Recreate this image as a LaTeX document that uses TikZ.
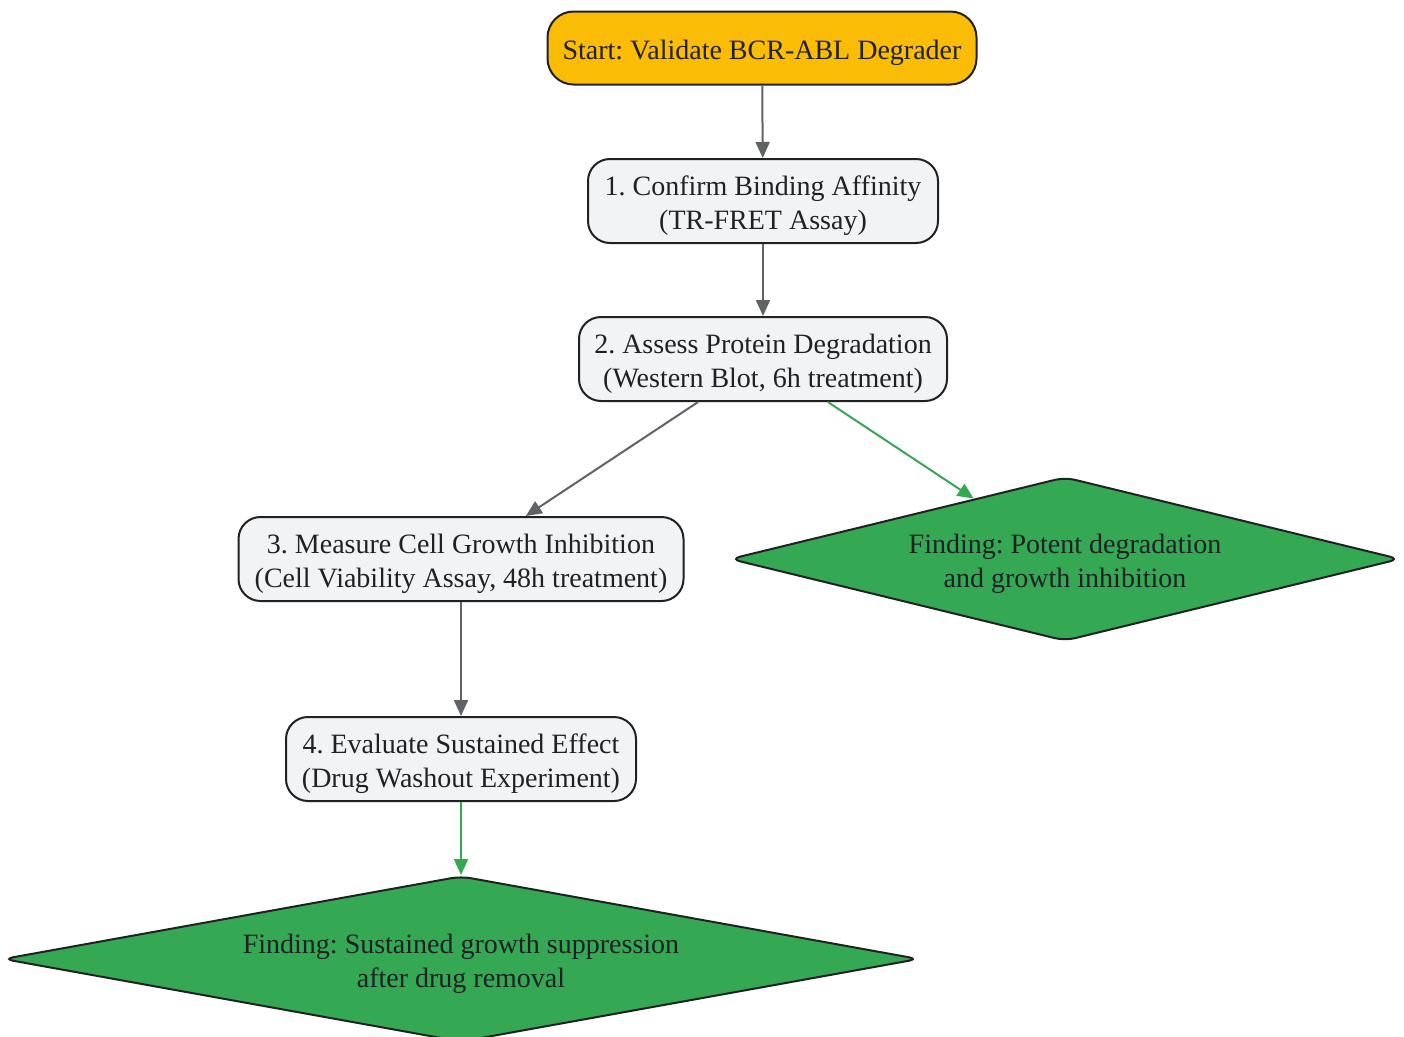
\documentclass[tikz,border=0pt]{standalone}
\usepackage{fontspec}
\setmainfont{Liberation Serif}
\frenchspacing
\usetikzlibrary{arrows.meta,shapes.geometric}
\definecolor{txt}{HTML}{202124}
\definecolor{edgegray}{HTML}{5F6368}
\definecolor{startfill}{HTML}{FBBC05}
\definecolor{stepfill}{HTML}{F1F3F4}
\definecolor{findfill}{HTML}{34A853}
\tikzset{
  base/.style={draw=txt, line width=2pt, text=txt, align=center, inner sep=0pt,
    font=\fontsize{28}{34}\selectfont\frenchspacing},
  oneline/.style={execute at begin node={\rule{0pt}{28.5pt}}},
  twoline/.style={execute at begin node={\rule{0pt}{62.5pt}}},
  startbox/.style={base, oneline, fill=startfill, rounded corners=26pt},
  stepbox/.style={base, twoline, fill=stepfill, rounded corners=22pt, minimum height=84pt},
  findbox/.style={base, twoline, fill=findfill, shape=diamond, rounded corners=10pt},
  conn/.style={line width=2pt, draw=edgegray, -{Triangle[length=16pt,width=14pt]}},
  goodconn/.style={line width=2pt, draw=findfill, -{Triangle[length=16pt,width=14pt]}},
}
\begin{document}
\begin{tikzpicture}[x=1pt,y=-1pt]
\useasboundingbox (0,0) rectangle (1404,1036);
\node[startbox, minimum width=429pt, minimum height=73pt] (s) at (762,48) {Start: Validate BCR-ABL Degrader};
\node[stepbox, minimum width=350pt] (n1) at (763,201) {1. Confirm Binding Affinity\\(TR-FRET Assay)};
\node[stepbox, minimum width=368pt] (n2) at (763,359) {2. Assess Protein Degradation\\(Western Blot, 6h treatment)};
\node[stepbox, minimum width=445pt] (n3) at (461,559) {3. Measure Cell Growth Inhibition\\(Cell Viability Assay, 48h treatment)};
\node[stepbox, minimum width=350pt] (n4) at (461,759) {4. Evaluate Sustained Effect\\(Drug Washout Experiment)};
\node[findbox, aspect=4, minimum width=670pt, minimum height=164pt] (d1) at (1065,559) {Finding: Potent degradation\\and growth inhibition};
\node[findbox, aspect=5.5, minimum width=916pt, minimum height=166pt] (d2) at (461,959) {Finding: Sustained growth suppression\\after drug removal};
\draw[conn] (s) -- (n1);
\draw[conn] (n1) -- (n2);
\draw[conn] (n2) -- (n3);
\draw[goodconn] (n2) -- (d1);
\draw[conn] (n3) -- (n4);
\draw[goodconn] (n4) -- (d2);
\end{tikzpicture}
\end{document}
